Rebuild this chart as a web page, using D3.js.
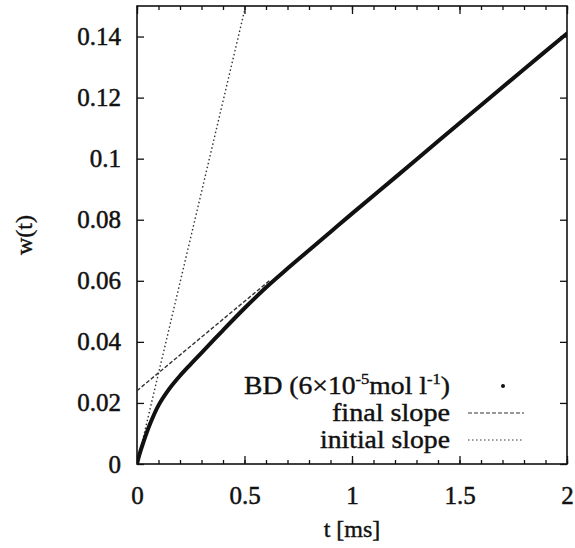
<!DOCTYPE html>
<html>
<head>
<meta charset="utf-8">
<script src="https://cdn.jsdelivr.net/npm/d3@7"></script>
<style>
  body { margin: 0; background: #fff; }
</style>
</head>
<body>
<svg id="chart" width="575" height="548"></svg>
<script>
'use strict';

// measured curve, BD (6x10^-5 mol/l)
const tValues = [0, 0.01, 0.03, 0.06, 0.1, 0.15, 0.2, 0.25, 0.3, 0.4, 0.5, 0.6, 0.7, 0.8, 0.9, 1.0, 1.2, 1.4, 1.6, 1.8, 2.0];
const wValues = [0, 0.0028, 0.0072, 0.013, 0.0192, 0.0246, 0.0289, 0.0327, 0.0364, 0.0438, 0.051, 0.0578, 0.064, 0.07, 0.076, 0.082, 0.0938, 0.1057, 0.1175, 0.1293, 0.141];

// fitted lines: w = intercept + slope * t
const finalSlope = { intercept: 0.024, slope: 0.0585, tRange: [0, 0.62] };
const initialSlope = { intercept: 0, slope: 0.297, tRange: [0, 0.6] };

const xTicks = [0, 0.5, 1, 1.5, 2];
const yTicks = [0, 0.02, 0.04, 0.06, 0.08, 0.1, 0.12, 0.14];
const xMinorTicks = d3.range(0, 2.0001, 0.1);

const legendItems = ['BD', 'final slope', 'initial slope'];

const margin = { left: 137, right: 8, top: 6, bottom: 84 };
const width = 575, height = 548;
const serif = '"Liberation Serif", "DejaVu Serif", serif';

const svg = d3.select('#chart').attr('font-family', serif);

const x = d3.scaleLinear().domain([0, 2]).range([margin.left, width - margin.right]);
const y = d3.scaleLinear().domain([0, 0.15]).range([height - margin.bottom, margin.top]);

svg.append('defs').append('clipPath').attr('id', 'plot-clip')
  .append('rect')
  .attr('x', x(0)).attr('y', y(0.15))
  .attr('width', x(2) - x(0)).attr('height', y(0) - y(0.15));

// axes with inward ticks
const fmt = d => d === 0 ? '0' : d3.format('')(d);

const bottomAxis = svg.append('g')
  .attr('transform', `translate(0,${y(0)})`)
  .call(d3.axisBottom(x).tickValues(xTicks).tickSize(-8).tickPadding(22).tickFormat(fmt));
bottomAxis.append('g')
  .call(d3.axisBottom(x).tickValues(xMinorTicks).tickSize(-4).tickFormat(''));

const topAxis = svg.append('g')
  .attr('transform', `translate(0,${y(0.15)})`)
  .call(d3.axisTop(x).tickValues(xTicks).tickSize(-8).tickFormat(''));
topAxis.append('g')
  .call(d3.axisTop(x).tickValues(xMinorTicks).tickSize(-4).tickFormat(''));

const leftAxis = svg.append('g')
  .attr('transform', `translate(${x(0)},0)`)
  .call(d3.axisLeft(y).tickValues(yTicks).tickSize(-7).tickPadding(16).tickFormat(fmt));

const rightAxis = svg.append('g')
  .attr('transform', `translate(${x(2)},0)`)
  .call(d3.axisRight(y).tickValues(yTicks).tickSize(-7).tickFormat(''));

[bottomAxis, topAxis, leftAxis, rightAxis].forEach(g => {
  g.attr('font-family', serif);
  g.selectAll('.domain').remove();
  g.selectAll('line').attr('stroke', '#111').attr('stroke-width', 1.3);
  g.selectAll('text')
    .attr('font-size', 25).attr('fill', '#111')
    .attr('stroke', '#111').attr('stroke-width', 0.5);
});

svg.append('rect')
  .attr('x', x(0)).attr('y', y(0.15))
  .attr('width', x(2) - x(0)).attr('height', y(0) - y(0.15))
  .attr('fill', 'none').attr('stroke', '#111').attr('stroke-width', 1.6);

// axis titles
svg.append('text')
  .attr('x', x(1)).attr('y', 537)
  .attr('text-anchor', 'middle')
  .attr('font-size', 24).attr('fill', '#111')
  .attr('stroke', '#111').attr('stroke-width', 0.4)
  .text('t [ms]');

svg.append('text')
  .attr('transform', `translate(32,${y(0.075)}) rotate(-90)`)
  .attr('text-anchor', 'middle')
  .attr('font-size', 24).attr('fill', '#111')
  .attr('stroke', '#111').attr('stroke-width', 0.4)
  .text('w(t)');

const plot = svg.append('g').attr('clip-path', 'url(#plot-clip)');

// fitted lines
const fitLine = f => d3.line()
  .x(t => x(t))
  .y(t => y(f.intercept + f.slope * t))(f.tRange);

plot.append('path')
  .attr('d', fitLine(finalSlope))
  .attr('fill', 'none').attr('stroke', '#333').attr('stroke-width', 1.4)
  .attr('stroke-dasharray', '4,2');

plot.append('path')
  .attr('d', fitLine(initialSlope))
  .attr('fill', 'none').attr('stroke', '#333').attr('stroke-width', 1.4)
  .attr('stroke-dasharray', '1.5,2.5');

// data curve (densely sampled points render as a thick line)
const data = tValues.map((t, i) => ({ t, w: wValues[i] }));
plot.append('path')
  .datum(data)
  .attr('d', d3.line().x(d => x(d.t)).y(d => y(d.w)).curve(d3.curveCatmullRom.alpha(0.5)))
  .attr('fill', 'none').attr('stroke', '#111').attr('stroke-width', 4)
  .attr('stroke-linecap', 'round');

// legend
const legend = svg.append('g')
  .attr('fill', '#111').attr('stroke', '#111').attr('stroke-width', 0.4);
const rowY = [386, 413, 440];
const textRight = 450, sampleX = [468, 524];

const bd = legend.append('text')
  .attr('x', textRight).attr('y', rowY[0] + 8)
  .attr('text-anchor', 'end').attr('font-size', 25)
  .attr('textLength', 206).attr('lengthAdjust', 'spacingAndGlyphs');
bd.append('tspan').text('BD (6×10');
bd.append('tspan').attr('font-size', 15).attr('dy', -10).text('-5');
bd.append('tspan').attr('dy', 10).text('mol l');
bd.append('tspan').attr('font-size', 15).attr('dy', -10).text('-1');
bd.append('tspan').attr('dy', 10).text(')');

legend.append('circle')
  .attr('cx', 503).attr('cy', rowY[0]).attr('r', 2).attr('stroke', 'none');

legend.append('text')
  .attr('x', textRight).attr('y', rowY[1] + 8)
  .attr('text-anchor', 'end').attr('font-size', 25)
  .attr('textLength', 118).attr('lengthAdjust', 'spacingAndGlyphs')
  .text(legendItems[1]);
legend.append('line')
  .attr('x1', sampleX[0]).attr('x2', sampleX[1]).attr('y1', rowY[1]).attr('y2', rowY[1])
  .attr('stroke', '#333').attr('stroke-width', 1.2).attr('stroke-dasharray', '4,2');

legend.append('text')
  .attr('x', textRight).attr('y', rowY[2] + 8)
  .attr('text-anchor', 'end').attr('font-size', 25)
  .attr('textLength', 130).attr('lengthAdjust', 'spacingAndGlyphs')
  .text(legendItems[2]);
legend.append('line')
  .attr('x1', sampleX[0]).attr('x2', sampleX[1]).attr('y1', rowY[2]).attr('y2', rowY[2])
  .attr('stroke', '#333').attr('stroke-width', 1.2).attr('stroke-dasharray', '1.5,2.5');
</script>
</body>
</html>
